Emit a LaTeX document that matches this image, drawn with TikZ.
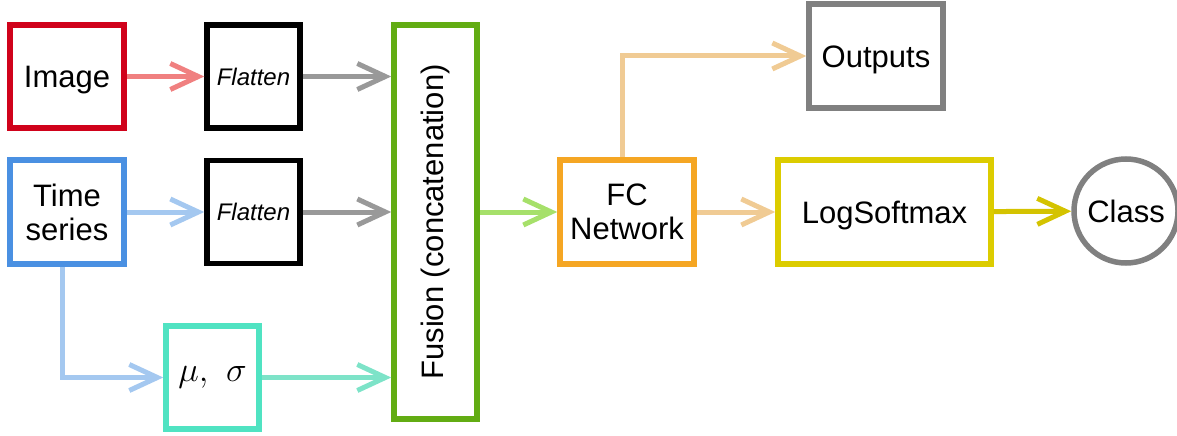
\documentclass[tikz,border=0pt]{standalone}
\usepackage{fontspec}
\setmainfont{Liberation Sans}
\usetikzlibrary{arrows.meta}

\definecolor{imgred}{HTML}{D0021B}
\definecolor{imgarrow}{HTML}{F08080}
\definecolor{tsblue}{HTML}{4A90E2}
\definecolor{tsarrow}{HTML}{A4C8F0}
\definecolor{flatarrow}{HTML}{999999}
\definecolor{statgreen}{HTML}{50E3C2}
\definecolor{statarrow}{HTML}{7DE3C8}
\definecolor{fusegreen}{HTML}{62AC13}
\definecolor{fusearrow}{HTML}{A6E06A}
\definecolor{fcorange}{HTML}{F5A623}
\definecolor{fcarrow}{HTML}{F0CB94}
\definecolor{lsmyellow}{HTML}{DCCC00}
\definecolor{lsmarrow}{HTML}{D4C300}
\definecolor{outgray}{HTML}{808080}

\begin{document}
\begin{tikzpicture}[x=1pt,y=-1pt,
  every node/.style={font=\fontsize{31}{34}\selectfont},
  blk/.style={draw,line width=5.5pt,align=center,inner sep=0pt},
  oneline/.style={text height=22pt,text depth=0pt},
  flat/.style={blk,minimum width=93pt,minimum height=103pt,font=\fontsize{24}{28}\selectfont\itshape,text height=17pt,text depth=0pt},
  conn/.style={line width=5pt,-{Straight Barb[length=28pt,width=26pt]}}]
\useasboundingbox (0,0) rectangle (1177,436);

% inputs
\node[blk,oneline,draw=imgred,minimum width=114pt,minimum height=103pt] (img) at (67,76.5) {Image};
\node[blk,draw=tsblue,minimum width=114pt,minimum height=104pt] (ts) at (67,212) {Time\\series};
\node[flat] (flat1) at (253.5,76.5) {Flatten};
\node[flat] (flat2) at (253.5,212) {Flatten};
\node[blk,draw=statgreen,minimum width=93pt,minimum height=103pt] (stat) at (212.5,377.5) {\scalebox{1.4}{$\mu,\ \sigma$}};

% fusion and head
\node[blk,draw=fusegreen,minimum width=83pt,minimum height=394pt] (fuse) at (435.5,222) {\rotatebox{90}{Fusion (concatenation)}};
\node[blk,draw=fcorange,minimum width=134pt,minimum height=104pt] (fc) at (627,212) {FC\\Network};
\node[blk,oneline,draw=outgray,minimum width=134pt,minimum height=104pt] (out) at (876,56) {Outputs};
\node[blk,oneline,draw=lsmyellow,minimum width=213pt,minimum height=104pt] (lsm) at (884.5,212) {LogSoftmax};
\node[blk,oneline,draw=outgray,circle,minimum size=104pt] (cls) at (1126,211) {Class};

% connectors
\draw[conn,imgarrow] (img) -- (flat1);
\draw[conn,tsarrow] (ts) -- (flat2);
\draw[conn,tsarrow] ([xshift=-5pt]ts.south) |- (stat.west);
\draw[conn,flatarrow] (flat1.east) -- (flat1.east -| fuse.west);
\draw[conn,flatarrow] (flat2.east) -- (flat2.east -| fuse.west);
\draw[conn,statarrow] (stat.east) -- (stat.east -| fuse.west);
\draw[conn,fusearrow] (fc.west -| fuse.east) -- (fc.west);
\draw[conn,fcarrow] ([xshift=-5pt]fc.north) |- (out.west);
\draw[conn,fcarrow] (fc) -- (lsm);
\draw[conn,lsmarrow] (lsm) -- (cls);
\end{tikzpicture}
\end{document}
